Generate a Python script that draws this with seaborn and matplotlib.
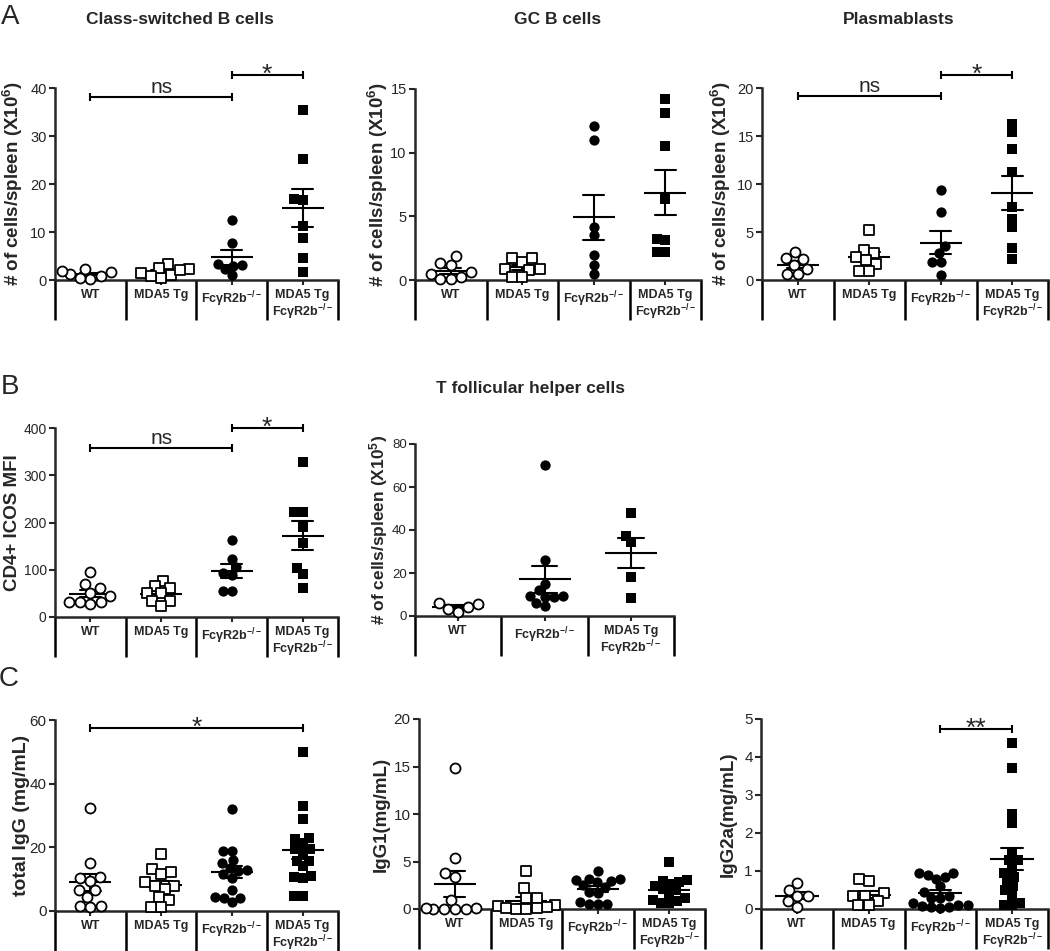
import warnings
warnings.filterwarnings('ignore')
import numpy as np
import pandas as pd
import matplotlib
matplotlib.use('Agg')
import matplotlib.pyplot as plt
import matplotlib.transforms as mtransforms
import seaborn as sns

sns.set_style('ticks')
plt.rcParams['font.family'] = ['Liberation Sans', 'DejaVu Sans']
plt.rcParams['mathtext.fontset'] = 'custom'
plt.rcParams['mathtext.rm'] = 'Liberation Sans'
plt.rcParams['mathtext.bf'] = 'Liberation Sans:bold'
plt.rcParams['mathtext.it'] = 'Liberation Sans:italic'

# ---------------- categories ----------------
KO = 'FcγR2b$^{\\mathbf{-/-}}$'
groups4 = ['WT', 'MDA5 Tg', 'KO', 'DKO']
labels4 = ['WT', 'MDA5 Tg', KO, 'MDA5 Tg\n' + KO]
groups3 = ['WT', 'KO', 'DKO']
labels3 = ['WT', KO, 'MDA5 Tg\n' + KO]

# ---------------- data ----------------
# A: Class-switched B cells (x10^6)
csb_wt = [2.2, 0.9, 0.3, 1.6, 1.2, 0.4, 1.9]
csb_tg = [3.3, 2.2, 1.0, 0.5, 1.5, 2.0, 2.5, 0.8]
csb_ko = [12.6, 7.8, 3.2, 2.9, 3.4, 1.0, 2.2]
csb_dko = [35.4, 25.3, 16.7, 16.8, 11.3, 8.7, 4.5, 1.7]
# A: GC B cells (x10^6)
gc_wt = [1.3, 1.2, 1.9, 0.6, 0.5, 0.1, 0.05, 0.2]
gc_tg = [1.7, 1.45, 1.75, 0.8, 0.85, 0.25, 0.25, 0.9]
gc_ko = [12.1, 11.0, 4.2, 3.5, 2.0, 1.2, 0.5]
gc_dko = [14.2, 13.1, 10.5, 6.4, 3.15, 3.2, 2.2, 2.2]
# A: Plasmablasts (x10^6)
pb_wt = [2.9, 2.3, 2.2, 1.6, 1.1, 0.6, 0.6]
pb_tg = [5.2, 3.1, 2.8, 2.4, 1.7, 2.1, 0.9, 0.9]
pb_ko = [9.4, 7.1, 3.5, 2.8, 1.9, 1.9, 0.5]
pb_dko = [16.3, 15.4, 13.6, 11.3, 7.6, 6.4, 5.5, 3.3, 2.2]
# B: CD4+ ICOS MFI
icos_wt = [95, 70, 61, 51, 44, 31, 31, 31, 28]
icos_tg = [77, 66, 61, 51, 50, 33, 33, 24]
icos_ko = [163, 122, 105, 94, 89, 54, 54]
icos_dko = [328, 223, 223, 190, 156, 103, 91, 61]
# B: T follicular helper cells (x10^5)
tfh_wt = [6.0, 4.2, 1.9, 3.4, 5.4]
tfh_ko = [70.2, 25.9, 14.8, 12.0, 9.3, 8.9, 9.3, 8.9, 4.5, 6.1]
tfh_dko = [47.7, 37.3, 34.2, 18.2, 8.4]
# C: total IgG (mg/mL)
igg_wt = [32.2, 15.0, 10.8, 10.3, 9.5, 6.6, 6.6, 4.4, 1.6, 1.3, 1.6]
igg_tg = [18.0, 13.3, 11.7, 12.1, 9.1, 7.8, 7.8, 7.0, 4.4, 3.4, 1.3, 1.3]
igg_ko = [31.9, 19.0, 19.0, 16.0, 15.0, 13.5, 13.0, 12.5, 11.5, 10.5, 6.5, 4.5, 4.0, 4.0, 2.8]
igg_dko = [50.0, 33.0, 28.8, 23.0, 22.5, 21.5, 19.5, 19.5, 18.5, 15.8, 15.8, 11.0, 10.8, 10.5, 4.7, 4.7, 14.0]
# C: IgG1 (mg/mL)
igg1_wt = [14.8, 5.4, 3.8, 3.4, 1.0, 0.1, 0.05, 0.0, 0.05, 0.1, 0.0]
igg1_tg = [4.0, 2.2, 1.2, 1.2, 0.4, 0.3, 0.2, 0.1, 0.05, 0.1, 0.05]
igg1_ko = [4.0, 3.2, 3.2, 3.1, 3.0, 2.8, 2.5, 2.3, 1.8, 1.7, 0.7, 0.5, 0.5, 0.5]
igg1_dko = [5.0, 3.1, 3.0, 2.8, 2.6, 2.4, 2.1, 2.0, 1.5, 1.2, 1.0, 0.8, 0.6, 0.6]
# C: IgG2a (mg/mL)
igg2a_wt = [0.68, 0.5, 0.35, 0.33, 0.2, 0.05]
igg2a_tg = [0.79, 0.73, 0.42, 0.35, 0.33, 0.2, 0.11, 0.11]
igg2a_ko = [0.95, 0.95, 0.9, 0.85, 0.8, 0.6, 0.3, 0.45, 0.35, 0.3, 0.15, 0.1, 0.08, 0.05, 0.05, 0.1, 0.02]
igg2a_dko = [4.36, 3.7, 2.5, 2.26, 1.5, 1.3, 1.3, 1.1, 0.95, 0.85, 0.75, 0.6, 0.5, 0.38, 0.11, 0.16, 0.1]

# ---------------- styles ----------------
W, H = 1050, 951
STYLE = {
    'WT': dict(marker='o', color='white', edgecolor='black', linewidth=1.3),
    'MDA5 Tg': dict(marker='s', color='white', edgecolor='black', linewidth=1.3),
    'KO': dict(marker='o', color='black', edgecolor='black', linewidth=0),
    'DKO': dict(marker='s', color='black', edgecolor='black', linewidth=0),
}
MSIZE = {'WT': 7.2, 'MDA5 Tg': 6.8, 'KO': 7.4, 'DKO': 6.8}
PACK = 0.85  # swarm layout computed with slightly smaller markers -> compact clusters
SWARMS = []

fig = plt.figure(figsize=(W / 100, H / 100), dpi=100)


def rect(l, t, r, b):
    return [l / W, 1 - b / H, (r - l) / W, (b - t) / H]


def panel(box, groups, labels, values, ylim, yticks, ylabel, ylx, brackets=(),
          ylfs=13.5, tfs=10.5):
    ax = fig.add_axes(rect(*box))
    n = len(groups)
    df = pd.DataFrame({'group': np.repeat(groups, [len(v) for v in values]),
                       'value': np.concatenate([np.asarray(v, float) for v in values])})
    for g in groups:
        sub = df[df.group == g]
        k = len(ax.collections)
        sns.swarmplot(data=sub, x='group', y='value', order=groups, ax=ax,
                      warn_thresh=1.0, size=MSIZE[g] * PACK, **STYLE[g])
        for c in ax.collections[k:]:
            SWARMS.append((c, MSIZE[g]))
    wpx = (box[2] - box[0]) / n
    sns.pointplot(data=df, x='group', y='value', order=groups, ax=ax,
                  errorbar='se', capsize=0.3, color='black',
                  linestyle='none', marker='_', markersize=0.6 * wpx * 0.72,
                  markeredgewidth=1.5, err_kws={'linewidth': 1.5})
    for c in ax.collections:
        c.set_clip_on(False)
    for l in ax.lines:
        l.set_clip_on(False)
    ax.set_xlim(-0.5, n - 0.5)
    ax.set_ylim(*ylim)
    ax.set_yticks(yticks)
    ax.set_yticklabels([f'{t:g}' for t in yticks], fontsize=tfs)
    ax.set_xticks(range(n))
    ax.set_xticklabels(labels, fontweight='bold', fontsize=9, linespacing=1.1)
    ax.set_xlabel('')
    ax.set_ylabel(ylabel, fontsize=ylfs, fontweight='bold')
    ax.yaxis.set_label_coords((ylx - box[0]) / (box[2] - box[0]), 0.5)
    for s in ['top', 'right']:
        ax.spines[s].set_visible(False)
    for s in ['left', 'bottom']:
        ax.spines[s].set_linewidth(1.8)
    ax.tick_params(axis='both', direction='out', length=4.5, width=1.5, pad=1.5)
    ax.tick_params(axis='x', length=3.5, pad=3)
    # category separators below the axis
    trans = mtransforms.blended_transform_factory(ax.transData, ax.transAxes)
    sep = 40 / (box[3] - box[1])
    for i in range(n + 1):
        ax.plot([i - 0.5, i - 0.5], [0, -sep], transform=trans, clip_on=False,
                color='black', lw=1.8, solid_capstyle='butt')
    for g1, g2, y, txt in brackets:
        i1, i2 = groups.index(g1), groups.index(g2)
        ax.plot([i1, i2], [y, y], color='black', lw=1.5, marker='|', markersize=6,
                markeredgewidth=1.5, clip_on=False)
        star = set(txt) == {'*'}
        ax.annotate(txt, xy=((i1 + i2) / 2, y), xytext=(0, -5 if star else 3),
                    textcoords='offset points', ha='center', va='baseline',
                    fontsize=19 if star else 15, annotation_clip=False)
    return ax


YL6 = '# of cells/spleen (X10$^{\\mathbf{6}}$)'
YL5 = '# of cells/spleen (X10$^{\\mathbf{5}}$)'

panel((55, 88, 338, 280), groups4, labels4, [csb_wt, csb_tg, csb_ko, csb_dko],
      (0, 40), [0, 10, 20, 30, 40], YL6, 25,
      brackets=[('WT', 'KO', 38.1, 'ns'), ('KO', 'DKO', 42.7, '*')])
panel((415, 89, 701, 280), groups4, labels4, [gc_wt, gc_tg, gc_ko, gc_dko],
      (0, 15), [0, 5, 10, 15], YL6, 390)
panel((762, 88, 1048, 280), groups4, labels4, [pb_wt, pb_tg, pb_ko, pb_dko],
      (0, 20), [0, 5, 10, 15, 20], YL6, 733,
      brackets=[('WT', 'KO', 19.2, 'ns'), ('KO', 'DKO', 21.4, '*')])
panel((55, 428, 338, 617), groups4, labels4, [icos_wt, icos_tg, icos_ko, icos_dko],
      (0, 400), [0, 100, 200, 300, 400], 'CD4+ ICOS MFI', 21, ylfs=13.5, tfs=10,
      brackets=[('WT', 'KO', 358, 'ns'), ('KO', 'DKO', 401, '*')])
panel((415, 444, 674, 616), groups3, labels3, [tfh_wt, tfh_ko, tfh_dko],
      (0, 80), [0, 20, 40, 60, 80], YL5, 390, ylfs=12.5, tfs=9.5)
panel((55, 720, 338, 911), groups4, labels4, [igg_wt, igg_tg, igg_ko, igg_dko],
      (0, 60), [0, 20, 40, 60], 'total IgG (mg/mL)', 30, ylfs=14, tfs=11,
      brackets=[('WT', 'DKO', 57.4, '*')])
panel((419, 719, 705, 909), groups4, labels4, [igg1_wt, igg1_tg, igg1_ko, igg1_dko],
      (0, 20), [0, 5, 10, 15, 20], 'IgG1(mg/mL)', 390, ylfs=13.5, tfs=11)
panel((761, 719, 1048, 909), groups4, labels4, [igg2a_wt, igg2a_tg, igg2a_ko, igg2a_dko],
      (0, 5), [0, 1, 2, 3, 4, 5], 'IgG2a(mg/mL)', 737, ylfs=13.5, tfs=11,
      brackets=[('KO', 'DKO', 4.75, '**')])

# titles and panel letters
for txt, x, y in [('Class-switched B cells', 180, 20), ('GC B cells', 558, 20),
                  ('Plasmablasts', 899, 20), ('T follicular helper cells', 530, 388)]:
    fig.text(x / W, 1 - y / H, txt, ha='center', va='center', fontsize=12.5, fontweight='bold')
for txt, x, y in [('A', 10, 17), ('B', 10, 387), ('C', 9, 679)]:
    fig.text(x / W, 1 - y / H, txt, ha='center', va='center', fontsize=20)

# compute swarm positions once with the layout size, then freeze them and
# give the markers their real size (points overlap a little, as in the reference)
fig.canvas.draw()
for c, s in SWARMS:
    c.__dict__.pop('draw', None)
    c.set_sizes([s ** 2])

fig.savefig('out.png', dpi=100)
